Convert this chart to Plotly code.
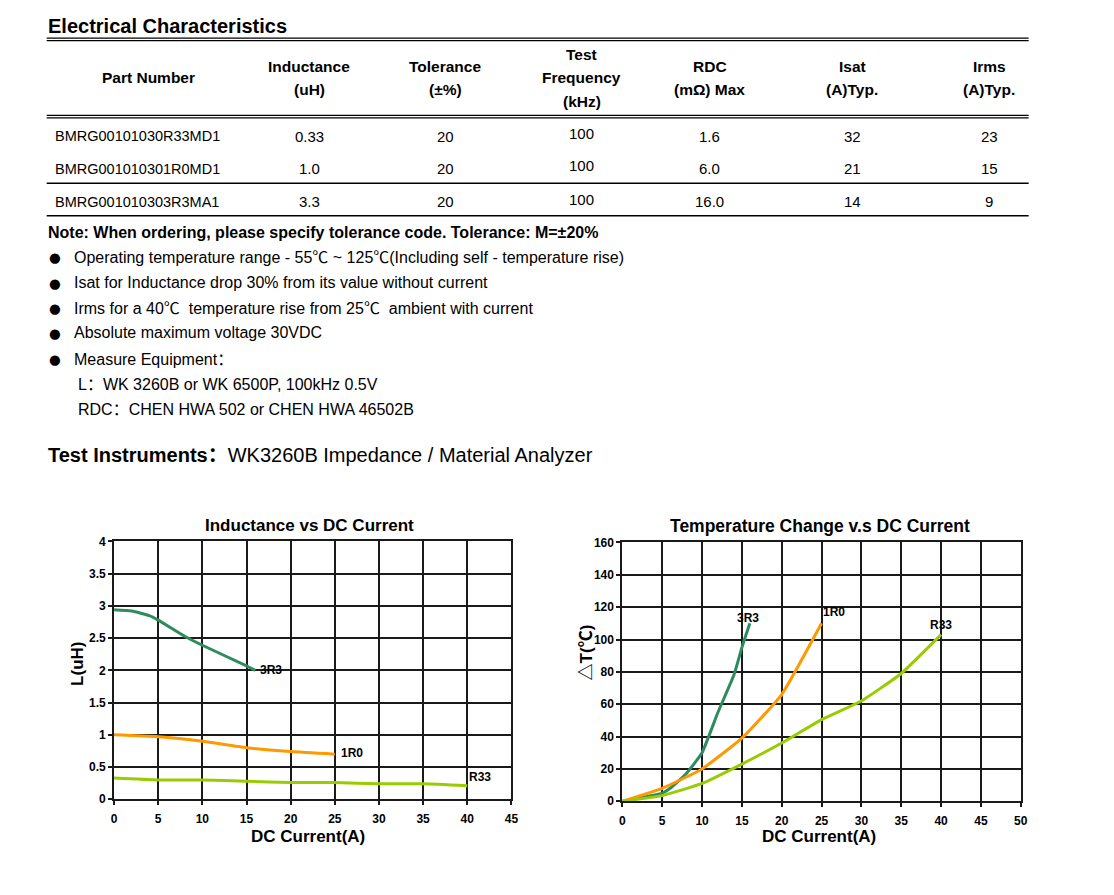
import plotly.graph_objects as go

# page is 1114x895; the html body keeps its default 8px margin
OFF = 8
FW, FH = 1098, 878

# ---------------- table data ----------------
headers = [["Part Number"], ["Inductance", "(uH)"], ["Tolerance", "(±%)"],
           ["Test", "Frequency", "(kHz)"], ["RDC", "(mΩ) Max"],
           ["Isat", "(A)Typ."], ["Irms", "(A)Typ."]]
part_numbers = ["BMRG00101030R33MD1", "BMRG001010301R0MD1", "BMRG001010303R3MA1"]
inductance = ["0.33", "1.0", "3.3"]
tolerance = ["20", "20", "20"]
test_freq = ["100", "100", "100"]
rdc = ["1.6", "6.0", "16.0"]
isat = ["32", "21", "14"]
irms = ["23", "15", "9"]

notes = ["Operating temperature range - 55℃ ~ 125℃(Including self - temperature rise)",
         "Isat for Inductance drop 30% from its value without current",
         "Irms for a 40℃  temperature rise from 25℃  ambient with current",
         "Absolute maximum voltage 30VDC",
         "Measure Equipment："]
sub_notes = ["L：WK 3260B or WK 6500P, 100kHz 0.5V",
             "RDC：CHEN HWA 502 or CHEN HWA 46502B"]

# ---------------- chart data ----------------
series_names = ["3R3", "1R0", "R33"]
series_colors = ["#2e8b5f", "#ff9900", "#99cc00"]

L_3R3_x = [0, 2, 4, 5, 8, 10, 15, 16]
L_3R3_y = [2.94, 2.92, 2.85, 2.78, 2.53, 2.39, 2.07, 2.0]
L_1R0_x = [0, 5, 10, 15, 20, 25]
L_1R0_y = [1.0, 0.97, 0.9, 0.8, 0.74, 0.7]
L_R33_x = [0, 5, 10, 15, 20, 25, 30, 35, 40]
L_R33_y = [0.33, 0.3, 0.3, 0.28, 0.26, 0.26, 0.24, 0.24, 0.21]

T_3R3_x = [0, 5, 6, 8, 10, 12, 14, 15, 16]
T_3R3_y = [0, 5, 8, 17, 30, 55, 78, 95, 110]
T_1R0_x = [0, 5, 10, 15, 20, 25]
T_1R0_y = [0, 8, 20, 39, 66, 110]
T_R33_x = [0, 5, 10, 15, 20, 25, 30, 35, 40]
T_R33_y = [0, 3.5, 11, 23, 36, 50.5, 62, 79, 103]

L_label_pos = [(17.8, 2.0), (27.0, 0.72), (41.4, 0.34)]
T_label_pos = [(15.8, 113), (26.6, 117), (40.0, 109)]

FONT = "Liberation Sans, Arial, Noto Sans CJK SC, sans-serif"


def px(x):
    return (x - OFF) / FW


def py(y):
    return 1 - (y - OFF) / FH


annotations = []
shapes = []


def text(x, y, s, size=15, bold=False, anchor="left", color="#000000", family=FONT, **kw):
    annotations.append(dict(
        x=px(x), y=py(y), xref="paper", yref="paper", text=s, showarrow=False,
        xanchor=anchor, yanchor="middle", borderpad=0,
        font=dict(family=family, size=size, color=color, weight="bold" if bold else "normal"),
        **kw))


def hline(y, x0=44, x1=1035, w=1.2):
    shapes.append(dict(type="line", xref="paper", yref="paper",
                       x0=px(x0), x1=px(x1), y0=py(y), y1=py(y),
                       line=dict(color="#000000", width=w)))


# ---- title & table ----
text(44, 19, "Electrical Characteristics", size=20, bold=True)
hline(31.5)
hline(34)
hline(110)
hline(112.5)
hline(179, w=1.4)
hline(212, w=1.4)

col_x = [147, 309, 446, 584, 713, 857, 995]
for cx, lines in zip(col_x, headers):
    n = len(lines)
    for i, ln in enumerate(lines):
        text(cx, 72 + (i - (n - 1) / 2) * 24, ln, size=15.5, bold=True, anchor="center")

row_y = [131, 164, 198]
for i, ry in enumerate(row_y):
    text(51, ry, part_numbers[i], size=14.5)
    text(col_x[1], ry, inductance[i], size=15, anchor="center")
    text(col_x[2], ry, tolerance[i], size=15, anchor="center")
    text(col_x[3], ry - 3, test_freq[i], size=15, anchor="center")
    text(col_x[4], ry, rdc[i], size=15, anchor="center")
    text(col_x[5], ry, isat[i], size=15, anchor="center")
    text(col_x[6], ry, irms[i], size=15, anchor="center")

# ---- notes ----
text(44, 229, "Note: When ordering, please specify tolerance code. Tolerance: M=±20%", size=16, bold=True)
note_y = [254, 280, 306, 331, 358]
for ny, s in zip(note_y, notes):
    text(45, ny, "●", size=13.5, family="DejaVu Sans")
    text(71, ny, s, size=16)
for ny, s in zip([383, 409], sub_notes):
    text(75, ny, s, size=16)

text(44, 455, "<b>Test Instruments：</b>WK3260B Impedance / Material Analyzer", size=20)

# ---- chart geometry ----
L_dom_x = [px(112), px(513)]
L_dom_y = [py(805), py(543)]
T_dom_x = [px(625), px(1027)]
T_dom_y = [py(807), py(544)]

fig = go.Figure()

L_data = [(L_3R3_x, L_3R3_y), (L_1R0_x, L_1R0_y), (L_R33_x, L_R33_y)]
T_data = [(T_3R3_x, T_3R3_y), (T_1R0_x, T_1R0_y), (T_R33_x, T_R33_y)]

for name, color, (xs, ys) in zip(series_names, series_colors, L_data):
    fig.add_trace(go.Scatter(x=xs, y=ys, mode="lines", name=name, showlegend=False,
                             line=dict(color=color, width=3, shape="spline", smoothing=0.5),
                             xaxis="x", yaxis="y"))
for name, color, (xs, ys) in zip(series_names, series_colors, T_data):
    fig.add_trace(go.Scatter(x=xs, y=ys, mode="lines", name=name, showlegend=False,
                             line=dict(color=color, width=3, shape="spline", smoothing=0.4),
                             xaxis="x2", yaxis="y2"))

for name, (lx, ly) in zip(series_names, L_label_pos):
    annotations.append(dict(x=lx, y=ly, xref="x", yref="y", text=name, showarrow=False,
                            xanchor="center", yanchor="middle",
                            font=dict(family=FONT, size=12, color="#000000", weight="bold")))
for name, (lx, ly) in zip(series_names, T_label_pos):
    annotations.append(dict(x=lx, y=ly, xref="x2", yref="y2", text=name, showarrow=False,
                            xanchor="center", yanchor="middle",
                            font=dict(family=FONT, size=12, color="#000000", weight="bold")))

# chart titles / axis titles
text(309, 527, "Inductance vs DC Current", size=17, bold=True, anchor="center")
text(824, 527, "Temperature Change v.s DC Current", size=17.5, bold=True, anchor="center")
text(308, 843, "DC Current(A)", size=17, bold=True, anchor="center")
text(823, 843, "DC Current(A)", size=17, bold=True, anchor="center")
text(75, 667, "L(uH)", size=17, bold=True, anchor="center", textangle=-90)
text(589, 656, "△T(℃)", size=17, bold=True, anchor="center", textangle=-90)

axis_common = dict(showgrid=True, gridcolor="#1a1a1a", gridwidth=2, showline=True,
                   linecolor="#1a1a1a", linewidth=2, mirror=True, zeroline=False,
                   ticks="outside", ticklen=4, tickwidth=2, tickcolor="#1a1a1a",
                   tickfont=dict(family=FONT, size=12, color="#000000", weight="bold"),
                   fixedrange=True)

fig.update_layout(
    width=FW, height=FH,
    margin=dict(l=0, r=0, t=0, b=0),
    paper_bgcolor="white", plot_bgcolor="white",
    xaxis=dict(domain=L_dom_x, range=[0, 45], dtick=5, tick0=0, anchor="y",
               ticklabelstandoff=3, **axis_common),
    yaxis=dict(domain=L_dom_y, range=[0, 4], dtick=0.5, tick0=0, anchor="x", **axis_common),
    xaxis2=dict(domain=T_dom_x, range=[0, 50], dtick=5, tick0=0, anchor="y2",
                ticklabelstandoff=3, **axis_common),
    yaxis2=dict(domain=T_dom_y, range=[0, 160], dtick=20, tick0=0, anchor="x2", **axis_common),
    annotations=annotations,
    shapes=shapes,
    showlegend=False,
)

fig.write_html("out.html", config={"displayModeBar": False})
